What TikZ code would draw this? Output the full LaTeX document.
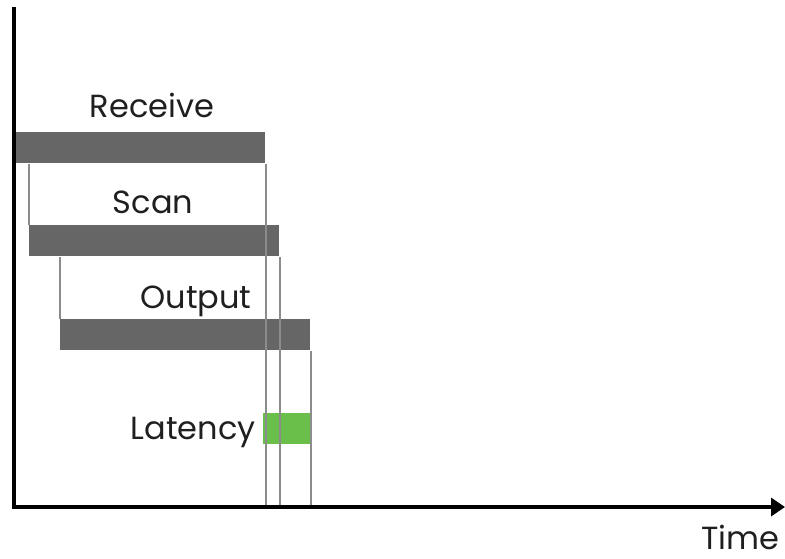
\documentclass[tikz,border=0pt]{standalone}
\usepackage{fontspec}
\setmainfont{Poppins}
\usetikzlibrary{arrows.meta, positioning}
\definecolor{barGray}{HTML}{666666}
\definecolor{guideGray}{HTML}{8C8C8C}
\definecolor{latGreen}{HTML}{6ABF4B}

\begin{document}
\begin{tikzpicture}[
    x=0.5pt, y=-0.5pt,
    bar/.style={rectangle, fill=barGray, inner sep=0pt, minimum width=125pt,
                minimum height=15.5pt, anchor=north west},
    latbox/.style={rectangle, fill=latGreen, inner sep=0pt, minimum width=23.5pt,
                   minimum height=15.5pt, anchor=north west},
    guide/.style={guideGray, line width=1pt},
    axis/.style={line width=2pt, black, -{Triangle[length=7pt, width=9pt]}},
    lbl/.style={font=\fontsize{16}{19}\selectfont, text=black!88, inner sep=0pt}
]
    \useasboundingbox (0,0) rectangle (785,558);
    \coordinate (ytop) at (13.5,7);
    \coordinate (origin) at (13.5,507);
    \coordinate (xend) at (785,507);

    \node[bar] (recv) at (15,132) {};
    \node[bar] (scan) at (29,225) {};
    \node[bar] (out)  at (60,319) {};
    \node[latbox] (lat) at (263,413) {};

    % guide lines
    \draw[guide] (scan.north west) -- (scan.north west |- recv.south);
    \draw[guide] (out.north west) -- (out.north west |- scan.south);
    \draw[guide] (recv.south east) -- (recv.south east |- origin);
    \draw[guide] (scan.south east) -- (scan.south east |- origin);
    \draw[guide] (out.south east) -- (out.south east |- origin);

    \draw[axis] (ytop) |- (xend);

    \node[lbl, anchor=base] (recvtxt) at (152,117) {Receive};
    \node[lbl, anchor=base] (scantxt) at (153,213) {Scan};
    \node[lbl, anchor=base] (outtxt)  at (196,308) {Output};
    \node[lbl, anchor=base east] (lattxt) at (256,439) {Latency};
    \node[lbl, anchor=base] (timetxt) at (740,549) {Time};
\end{tikzpicture}
\end{document}
